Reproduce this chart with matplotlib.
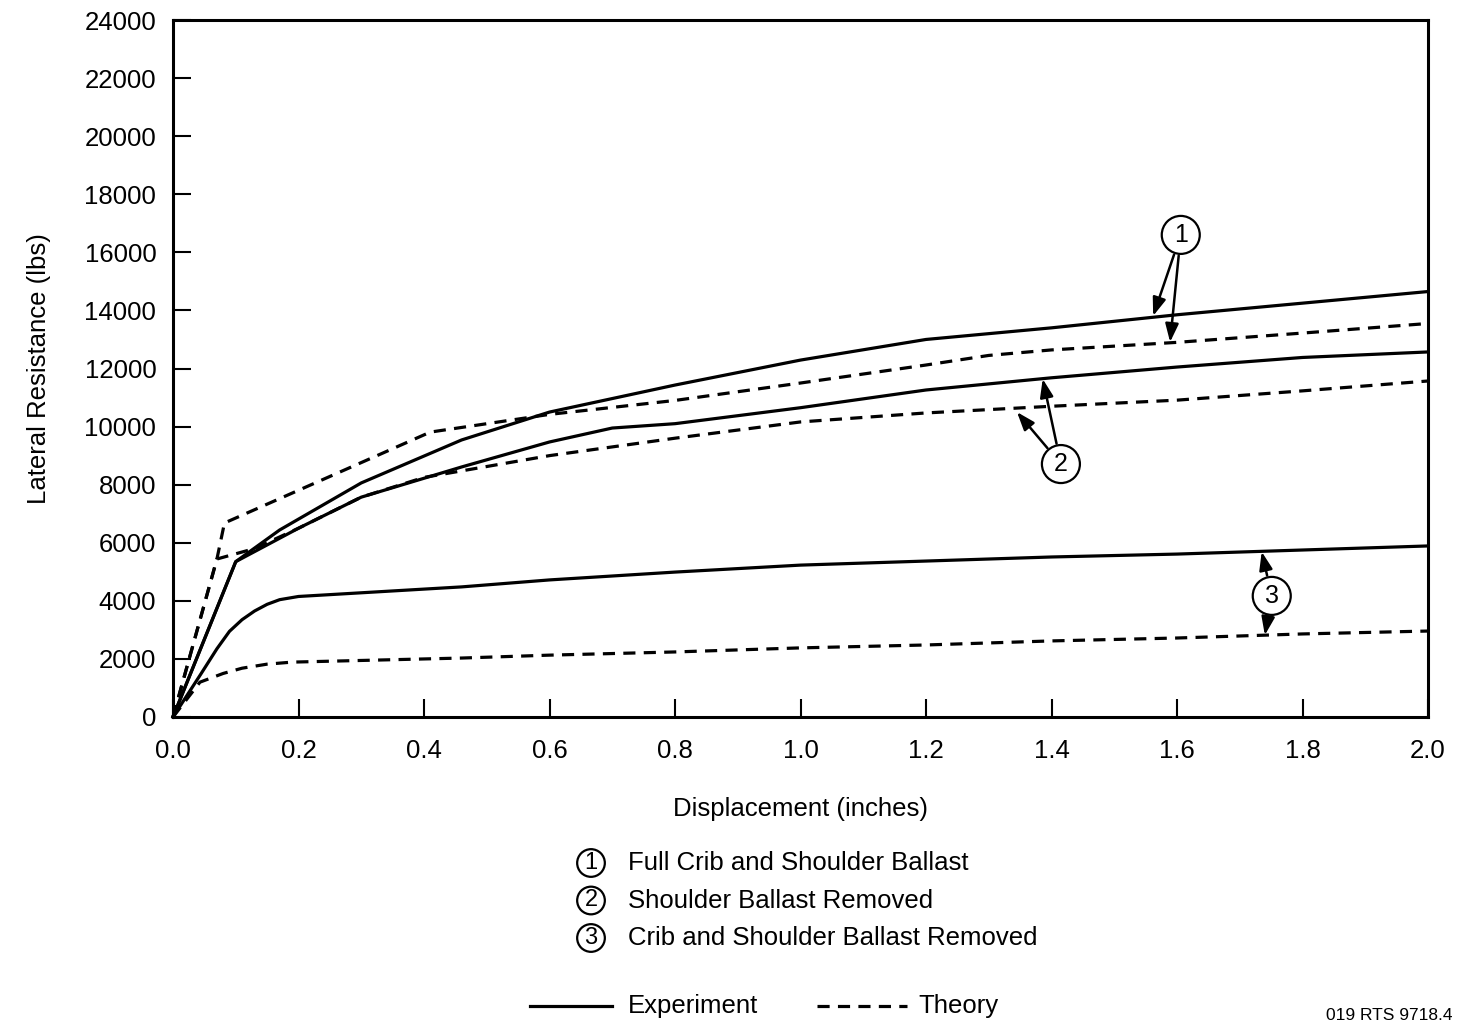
import matplotlib
matplotlib.use("Agg")
import matplotlib.pyplot as plt

plt.rcParams['font.family'] = ['Liberation Sans', 'DejaVu Sans']

# Displacement (inches) and lateral resistance (lbs) for each ballast condition
exp1_x = [0.0, 0.10, 0.17, 0.30, 0.46, 0.60, 0.80, 1.00, 1.20, 1.40, 1.60, 1.80, 2.00]
exp1_y = [0, 5350, 6440, 8060, 9540, 10500, 11430, 12290, 13000, 13400, 13850, 14250, 14650]

theo1_x = [0.0, 0.07, 0.082, 0.41, 0.60, 0.80, 1.00, 1.20, 1.30, 1.40, 1.60, 1.80, 2.00]
theo1_y = [0, 5440, 6680, 9810, 10420, 10900, 11500, 12120, 12450, 12640, 12900, 13220, 13550]

exp2_x = [0.0, 0.10, 0.20, 0.30, 0.46, 0.60, 0.70, 0.80, 1.00, 1.20, 1.40, 1.60, 1.80, 2.00]
exp2_y = [0, 5350, 6500, 7570, 8610, 9470, 9950, 10100, 10650, 11260, 11680, 12050, 12380, 12570]

theo2_x = [0.0, 0.07, 0.13, 0.20, 0.30, 0.40, 0.60, 0.80, 1.00, 1.20, 1.40, 1.60, 1.80, 2.00]
theo2_y = [0, 5440, 5800, 6500, 7570, 8250, 9000, 9600, 10160, 10470, 10700, 10910, 11230, 11570]

exp3_x = [0.0, 0.045, 0.07, 0.09, 0.11, 0.13, 0.15, 0.17, 0.20, 0.46, 0.60, 0.80,
          1.00, 1.20, 1.40, 1.60, 1.80, 2.00]
exp3_y = [0, 1500, 2350, 2950, 3350, 3650, 3880, 4040, 4150, 4480, 4720, 4990,
          5230, 5370, 5510, 5610, 5750, 5890]

theo3_x = [0.0, 0.043, 0.08, 0.11, 0.15, 0.19, 0.46, 0.60, 0.80, 1.00, 1.20, 1.40, 1.60, 1.80, 2.00]
theo3_y = [0, 1200, 1500, 1680, 1820, 1890, 2030, 2130, 2240, 2380, 2480, 2620, 2720, 2860, 2960]

x_ticks = [0.0, 0.2, 0.4, 0.6, 0.8, 1.0, 1.2, 1.4, 1.6, 1.8, 2.0]
y_ticks = list(range(0, 24001, 2000))

conditions = ["Full Crib and Shoulder Ballast",
              "Shoulder Ballast Removed",
              "Crib and Shoulder Ballast Removed"]

FS = 18.5
W, H = 1457, 1025

fig = plt.figure(figsize=(W / 100, H / 100), dpi=100)
ax = fig.add_axes([173 / W, 1 - 717 / H, (1428 - 173) / W, (717 - 20) / H])

lw = 2.3
dash = (0, (3.8, 2.6))
for xs, ys in [(exp1_x, exp1_y), (exp2_x, exp2_y), (exp3_x, exp3_y)]:
    ax.plot(xs, ys, color='black', lw=lw, solid_joinstyle='round', clip_on=False)
for xs, ys in [(theo1_x, theo1_y), (theo2_x, theo2_y), (theo3_x, theo3_y)]:
    ax.plot(xs, ys, color='black', lw=lw, linestyle=dash, clip_on=False)

ax.set_xlim(0, 2.0)
ax.set_ylim(0, 24000)
ax.set_xticks(x_ticks)
ax.set_xticklabels([f"{v:.1f}" for v in x_ticks])
ax.set_yticks(y_ticks)
ax.set_yticklabels([str(v) for v in y_ticks])
ax.tick_params(direction='in', length=13, width=1.5, labelsize=FS)
ax.tick_params(axis='x', pad=16)
ax.tick_params(axis='y', pad=12)
for s in ax.spines.values():
    s.set_linewidth(2.2)

ax.set_xlabel("Displacement (inches)", fontsize=FS, labelpad=24)
ax.set_ylabel("Lateral Resistance (lbs)", fontsize=FS, labelpad=24)

# Circled curve labels with arrows pointing to their lines
circ = dict(boxstyle='circle,pad=0.28', fc='white', ec='black', lw=1.6)
arrow = dict(arrowstyle='-|>,head_length=0.55,head_width=0.2', color='black',
             lw=1.8, mutation_scale=20, shrinkA=15, shrinkB=0)

callouts = [
    ("1", (1.606, 16600), [(1.562, 13810), (1.589, 12910)]),
    ("2", (1.415, 8710), [(1.386, 11640), (1.345, 10500)]),
    ("3", (1.751, 4170), [(1.735, 5690), (1.74, 2820)]),
]
for num, center, tips in callouts:
    for tip in tips:
        ax.annotate("", xy=tip, xytext=center, arrowprops=arrow)
    ax.text(center[0], center[1], num, ha='center', va='center', fontsize=18, bbox=circ, zorder=5)

# Key for the three ballast conditions
leg_circ = dict(boxstyle='circle,pad=0.12', fc='white', ec='black', lw=1.6)
for i, label in enumerate(conditions):
    yy = 1 - (863 + 37.5 * i) / H
    fig.text(591 / W, yy, str(i + 1), ha='center', va='center', fontsize=17, bbox=leg_circ)
    fig.text(628 / W, yy, label, ha='left', va='center', fontsize=FS)

# Line-style key
yk = 1 - 1006 / H
fig.add_artist(plt.Line2D([530 / W, 612 / W], [yk, yk], color='black', lw=lw))
fig.text(628 / W, yk, "Experiment", ha='left', va='center', fontsize=FS)
fig.add_artist(plt.Line2D([817 / W, 907 / W], [yk, yk], color='black', lw=lw, linestyle=dash))
fig.text(918 / W, yk, "Theory", ha='left', va='center', fontsize=FS)

fig.text(1453 / W, 2 / H, "019 RTS 9718.4", ha='right', va='bottom', fontsize=12.5)

fig.savefig("out.png", dpi=100, facecolor='white')
